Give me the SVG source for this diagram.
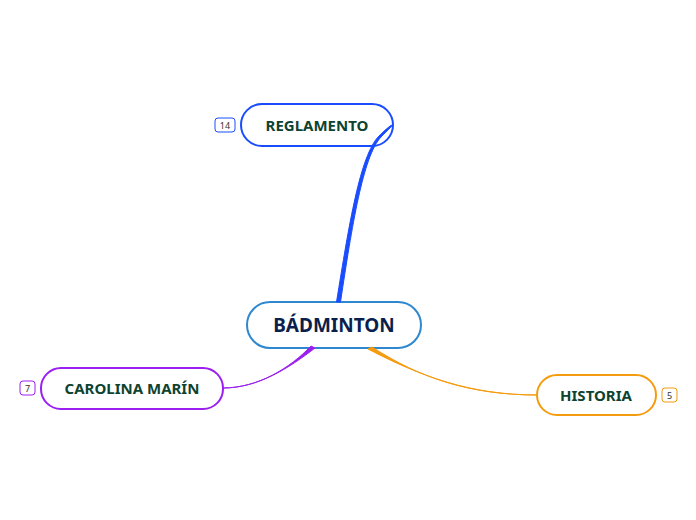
<svg xmlns="http://www.w3.org/2000/svg" width="696" height="520" viewBox="0 0 696 520">
<style>
.node{fill:#fff;stroke-width:2}
.lbl{font-family:"Noto Sans","DejaVu Sans",sans-serif;font-weight:bold;text-anchor:middle;fill:#0d4330;font-size:15px}
.badge{fill:#fff;stroke-width:1}
.bt{font-family:"Noto Sans","DejaVu Sans",sans-serif;font-size:9px;text-anchor:middle;fill:#333}
.con{stroke-width:1;stroke-linejoin:round}
</style>
<rect width="696" height="520" fill="#fff"/>
<g id="center">
<rect class="node" x="247" y="302" width="174" height="46" rx="23" stroke="#2e88cf"/>
<text x="334" y="332" class="lbl" style="font-size:19px;fill:#0b1f4d">BÁDMINTON</text>
</g>
<g id="reglamento">
<rect class="node" x="241" y="104" width="152" height="42" rx="21" stroke="#1a4cff"/>
<text x="317" y="131" class="lbl">REGLAMENTO</text>
<rect class="badge" x="215" y="118" width="20" height="14" rx="3" stroke="#1a4cff"/>
<text x="225" y="128.5" class="bt">14</text>
</g>
<g id="carolina">
<rect class="node" x="41" y="368" width="182" height="41" rx="20" stroke="#9b1ff0"/>
<text x="132" y="394" class="lbl">CAROLINA MARÍN</text>
<rect class="badge" x="20" y="381" width="15" height="14" rx="3" stroke="#9b1ff0"/>
<text x="27.5" y="391.5" class="bt">7</text>
</g>
<g id="historia">
<rect class="node" x="537" y="375" width="119" height="40" rx="20" stroke="#f59b0f"/>
<text x="596" y="401" class="lbl">HISTORIA</text>
<rect class="badge" x="662" y="388" width="15" height="14" rx="3" stroke="#f59b0f"/>
<text x="669.5" y="398.5" class="bt">5</text>
</g>
<g id="connectors">
<path class="con" d="M336.5,302 C349,225 360,155 379,136 C386,129 392,124 393,125 C392,126 387,131 381,137 C363,156 352,226 340.5,302 Z" fill="#1a4cff" stroke="#1a4cff"/>
<path class="con" d="M311,346 C290,368 258,388 223,388 C258,388 289,368 315,348 Z" fill="#9b1ff0" stroke="#9b1ff0"/>
<path class="con" d="M368,349 C420,376 470,395 537,395 C470,395 420,378 372,347 Z" fill="#f59b0f" stroke="#f59b0f"/>
</g>
</svg>
